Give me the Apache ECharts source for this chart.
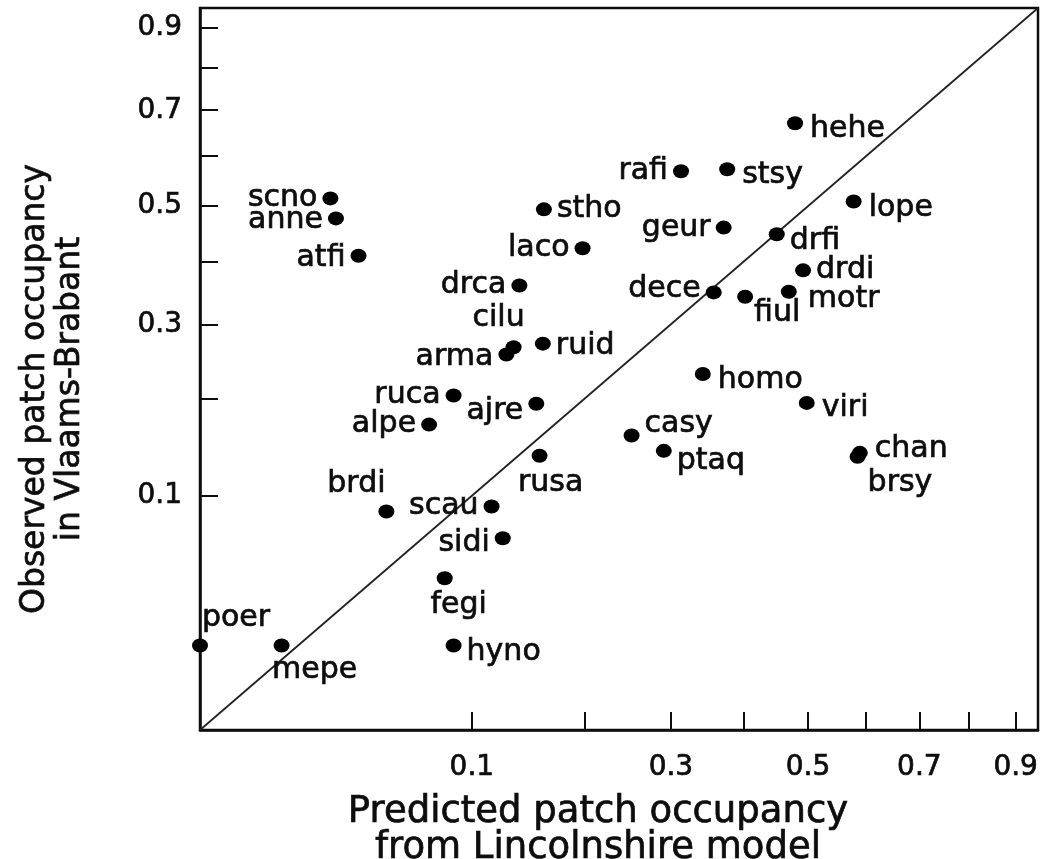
<!DOCTYPE html>
<html>
<head>
<meta charset="utf-8">
<script src="https://cdn.jsdelivr.net/npm/echarts@6/dist/echarts.min.js"></script>
<style>
  html, body { margin: 0; padding: 0; background: #fff; }
  #chart { width: 1043px; height: 859px; }
</style>
</head>
<body>
<div id="chart"></div>
<script>
// species codes, predicted (Lincolnshire model) and observed (Vlaams-Brabant) occupancy
const species = ['hehe', 'rafi', 'stsy', 'scno', 'anne', 'atfi', 'stho', 'lope', 'laco', 'geur',
  'drfi', 'drdi', 'drca', 'dece', 'fiul', 'motr', 'cilu', 'arma', 'ruid', 'homo',
  'ruca', 'ajre', 'viri', 'alpe', 'casy', 'rusa', 'ptaq', 'chan', 'brsy', 'brdi',
  'scau', 'sidi', 'fegi', 'poer', 'mepe', 'hyno'];
const predicted = [0.479, 0.313, 0.376, 0.023, 0.025, 0.034, 0.160, 0.578, 0.198, 0.371,
  0.450, 0.492, 0.138, 0.357, 0.402, 0.469, 0.133, 0.127, 0.159, 0.342,
  0.087, 0.153, 0.498, 0.071, 0.252, 0.156, 0.291, 0.589, 0.585, 0.047,
  0.115, 0.124, 0.081, 0.000, 0.009, 0.087];
const observed = [0.671, 0.569, 0.573, 0.515, 0.477, 0.410, 0.494, 0.509, 0.423, 0.460,
  0.448, 0.385, 0.360, 0.349, 0.342, 0.350, 0.267, 0.257, 0.272, 0.231,
  0.204, 0.194, 0.195, 0.170, 0.158, 0.137, 0.142, 0.140, 0.136, 0.087,
  0.091, 0.067, 0.042, 0.013, 0.013, 0.013];

const tickValues = [0.1, 0.2, 0.3, 0.4, 0.5, 0.6, 0.7, 0.8, 0.9];
const labelValues = [0.1, 0.3, 0.5, 0.7, 0.9];
const axisMax = 0.95;

// both axes are square-root scaled
const toAxis = p => Math.sqrt(p);

// label side and nudge [dx, dy] per species
const labelPlace = {
  hehe: ['right', 2, 6], rafi: ['left', 0, 0], stsy: ['right', 2, 6], scno: ['left', 0, 0],
  anne: ['left', 0, 2], atfi: ['left', 0, 3], stho: ['right', 0, 0], lope: ['right', 2, 7],
  laco: ['left', 0, 0], geur: ['left', 0, 1], drfi: ['right', 0, 7], drdi: ['right', 0, 0],
  drca: ['left', 0, 0], dece: ['left', 0, -3], fiul: ['right', -4, 16], motr: ['right', 6, 7],
  cilu: ['top', -15, -2], arma: ['left', 0, 3], ruid: ['right', 0, 3], homo: ['right', 2, 6],
  ruca: ['left', 0, 0], ajre: ['left', 0, 7], viri: ['right', 2, 5], alpe: ['left', 0, 0],
  casy: ['right', 0, -11], rusa: ['bottom', 11, 0], ptaq: ['right', 0, 10], chan: ['right', 2, -4],
  brsy: ['right', -3, 26], brdi: ['top', -30, 0], scau: ['left', 0, 0], sidi: ['left', 0, 5],
  fegi: ['bottom', 14, 0], poer: ['top', 36, 0], mepe: ['bottom', 33, -2], hyno: ['right', 0, 7]
};

const ink = '#0d0d0d';
const font = 'DejaVu Sans';
// thin outline in the text colour to give the heavier look of the scanned figure
const heavy = { textBorderColor: ink, textBorderWidth: 0.7 };

const points = species.map((s, i) => ({
  name: s,
  value: [toAxis(predicted[i]), toAxis(observed[i])],
  label: { position: labelPlace[s][0] }
}));

const chart = echarts.init(document.getElementById('chart'));

const axisCommon = {
  type: 'value',
  min: 0,
  max: toAxis(axisMax),
  splitLine: { show: false },
  axisLine: { show: true, lineStyle: { color: ink, width: 2.5 } },
  axisTick: {
    show: true, inside: true, length: 18,
    customValues: tickValues.map(toAxis),
    lineStyle: { color: ink, width: 2 }
  },
  axisLabel: Object.assign({
    customValues: labelValues.map(toAxis),
    formatter: v => (v * v).toFixed(1),
    color: ink, fontFamily: font, fontSize: 28
  }, heavy),
  nameLocation: 'middle'
};

chart.setOption({
  animation: false,
  backgroundColor: '#fff',
  grid: {
    left: 200, right: 5, top: 8, bottom: 129,
    outerBoundsMode: 'none',
    show: true, borderColor: ink, borderWidth: 2.5
  },
  xAxis: Object.assign({}, axisCommon, {
    name: 'Predicted patch occupancy\nfrom Lincolnshire model',
    nameGap: 64,
    nameTextStyle: Object.assign({ color: ink, fontFamily: font, fontSize: 37, lineHeight: 36, padding: [0, 42, 0, 0] }, heavy),
    axisLabel: Object.assign({}, axisCommon.axisLabel, { margin: 24 })
  }),
  yAxis: Object.assign({}, axisCommon, {
    name: 'Observed patch occupancy\nin Vlaams-Brabant',
    nameGap: 112,
    nameTextStyle: Object.assign({ color: ink, fontFamily: font, fontSize: 33, lineHeight: 35, padding: [0, 40, 0, 0] }, heavy),
    axisLabel: Object.assign({}, axisCommon.axisLabel, { margin: 18 })
  }),
  series: [
    {
      type: 'line',
      data: [[0, 0], [toAxis(axisMax), toAxis(axisMax)]],
      symbol: 'none',
      silent: true,
      lineStyle: { color: '#222', width: 1.8 },
      z: 1
    },
    {
      type: 'scatter',
      data: points,
      symbol: 'circle',
      symbolSize: [16, 14],
      itemStyle: { color: '#000', opacity: 1 },
      label: Object.assign({
        show: true,
        formatter: '{b}',
        distance: 5,
        color: ink,
        opacity: 1,
        fontFamily: font,
        fontSize: 30
      }, heavy),
      labelLayout: params => {
        const p = labelPlace[species[params.dataIndex]];
        return { dx: p[1], dy: p[2], hideOverlap: false };
      },
      z: 2
    }
  ]
});
</script>
</body>
</html>
